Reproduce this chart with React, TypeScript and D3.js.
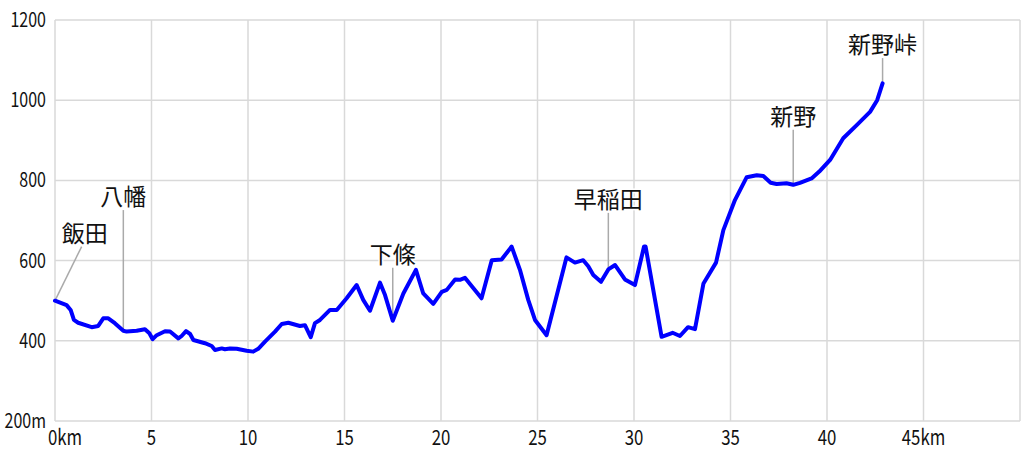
import React, { useEffect, useRef } from "react";
import * as d3 from "d3";

// distance (km) and elevation (m) along the route
const distances = [
  0, 0.6, 0.81, 0.98, 1.2, 1.9, 2.24, 2.5, 2.76, 3.1, 3.54, 3.71, 4.23, 4.66, 4.89,
  5.06, 5.27, 5.7, 5.96, 6.39, 6.56, 6.79, 7.0, 7.17, 7.77, 8.12, 8.29, 8.64, 8.8,
  9.07, 9.41, 9.93, 10.27, 10.53, 10.88, 11.4, 11.75, 12.09, 12.69, 12.95, 13.25,
  13.47, 13.73, 14.25, 14.6, 15.11, 15.63, 15.97, 16.32, 16.84, 17.1, 17.5, 18.05,
  18.7, 19.08, 19.6, 20.04, 20.3, 20.73, 20.98, 21.24, 22.1, 22.63, 23.14, 23.66,
  24.09, 24.52, 24.87, 25.47, 26.5, 26.94, 27.37, 27.63, 27.89, 28.29, 28.67, 29.02,
  29.53, 30.05, 30.52, 30.6, 31.43, 32.0, 32.38, 32.8, 33.16, 33.6, 34.25, 34.63,
  35.23, 35.84, 36.36, 36.7, 37.08, 37.39, 37.9, 38.25, 38.6, 39.2, 39.6, 40.16,
  40.84, 41.54, 42.23, 42.6, 42.88,
];
const elevations = [
  500, 489, 477, 452, 445, 434, 437, 456, 456, 444, 425, 423, 425, 429, 419,
  404, 414, 424, 423, 406, 412, 424, 417, 402, 394, 387, 377, 381, 379,
  381, 380, 375, 373, 380, 398, 423, 442, 445, 437, 439, 409,
  444, 452, 477, 477, 506, 539, 502, 475, 545, 514, 450, 518,
  577, 518, 492, 522, 527, 553, 552, 557, 506, 601, 603, 635,
  577, 502, 452, 414, 608, 595, 601, 586, 564, 547, 578, 589,
  553, 539, 635, 635, 410, 420, 412, 434, 429, 543, 595, 676,
  751, 808, 813, 811, 794, 791, 793, 789, 794, 805, 822, 851,
  905, 938, 971, 1000, 1042,
];

// place names: point on the route and the top of the leader line
const placeNames = ["飯田", "八幡", "下條", "早稲田", "新野", "新野峠"];
const placeKm = [0, 3.54, 17.5, 28.67, 38.25, 42.88];
const placeElev = [500, 425, 450, 578, 789, 1042];
const leaderTopKm = [1.38, 3.54, 17.5, 28.67, 38.25, 42.88];
const leaderTopElev = [635, 726, 582, 719, 926, 1105];

const xTicks = [0, 5, 10, 15, 20, 25, 30, 35, 40, 45, 50];
const xTickLabels = ["0km", "5", "10", "15", "20", "25", "30", "35", "40", "45km", ""];
const yTicks = [200, 400, 600, 800, 1000, 1200];
const yTickLabels = ["200m", "400", "600", "800", "1000", "1200"];

const App = () => {
  const ref = useRef(null);

  useEffect(() => {
    const width = 1024;
    const height = 455;
    const margin = { left: 55, right: 4, top: 20, bottom: 34 };
    const font = "'Noto Sans CJK JP', sans-serif";
    const squeeze = 0.8; // tick font in the original is narrow

    d3.select(ref.current).selectAll("*").remove();

    const svg = d3
      .select(ref.current)
      .append("svg")
      .attr("width", width)
      .attr("height", height)
      .style("position", "absolute")
      .style("left", 0)
      .style("top", 0)
      .style("background", "#fff");

    const x = d3.scaleLinear().domain([0, 50]).range([margin.left, width - margin.right]);
    const y = d3.scaleLinear().domain([200, 1200]).range([height - margin.bottom, margin.top]);

    // grid
    svg
      .append("g")
      .selectAll("line")
      .data(xTicks)
      .enter()
      .append("line")
      .attr("x1", (d) => x(d))
      .attr("x2", (d) => x(d))
      .attr("y1", y(1200))
      .attr("y2", y(200))
      .attr("stroke", "#d9d9d9")
      .attr("stroke-width", 1.5);

    svg
      .append("g")
      .selectAll("line")
      .data(yTicks)
      .enter()
      .append("line")
      .attr("x1", x(0))
      .attr("x2", x(50))
      .attr("y1", (d) => y(d))
      .attr("y2", (d) => y(d))
      .attr("stroke", "#d9d9d9")
      .attr("stroke-width", 1.5);

    // tick labels
    svg
      .append("g")
      .selectAll("text")
      .data(yTicks)
      .enter()
      .append("text")
      .attr("transform", (d) => `translate(${x(0) - 9},${y(d) + 7}) scale(${squeeze},1)`)
      .attr("text-anchor", "end")
      .attr("font-family", font)
      .attr("font-size", 20)
      .attr("fill", "#111")
      .text((d, i) => yTickLabels[i]);

    svg
      .append("g")
      .selectAll("text")
      .data(xTicks)
      .enter()
      .append("text")
      .attr("transform", (d) => `translate(${d === 0 ? x(d) - 7 : x(d)},${height - 10}) scale(${squeeze},1)`)
      .attr("text-anchor", (d) => (d === 0 ? "start" : "middle"))
      .attr("font-family", font)
      .attr("font-size", 21)
      .attr("fill", "#111")
      .text((d, i) => xTickLabels[i]);

    // leader lines
    svg
      .append("g")
      .selectAll("line")
      .data(placeNames)
      .enter()
      .append("line")
      .attr("x1", (d, i) => x(placeKm[i]))
      .attr("y1", (d, i) => y(placeElev[i]))
      .attr("x2", (d, i) => x(leaderTopKm[i]))
      .attr("y2", (d, i) => y(leaderTopElev[i]))
      .attr("stroke", "#aaa")
      .attr("stroke-width", 1.5);

    // profile line
    const line = d3
      .line()
      .x((d) => x(d[0]))
      .y((d) => y(d[1]));

    svg
      .append("path")
      .datum(distances.map((d, i) => [d, elevations[i]]))
      .attr("d", line)
      .attr("fill", "none")
      .attr("stroke", "#0000ff")
      .attr("stroke-width", 4)
      .attr("stroke-linejoin", "round")
      .attr("stroke-linecap", "round");

    // place labels
    svg
      .append("g")
      .selectAll("text")
      .data(placeNames)
      .enter()
      .append("text")
      .attr("x", (d, i) => x(leaderTopKm[i]) + (i === 0 ? 3 : 0))
      .attr("y", (d, i) => y(leaderTopElev[i]) - 5)
      .attr("text-anchor", "middle")
      .attr("font-family", font)
      .attr("font-size", 23)
      .attr("fill", "#111")
      .style("paint-order", "stroke")
      .attr("stroke", "#fff")
      .attr("stroke-width", 3)
      .text((d) => d);
  }, []);

  return <div ref={ref}></div>;
};

export default App;
